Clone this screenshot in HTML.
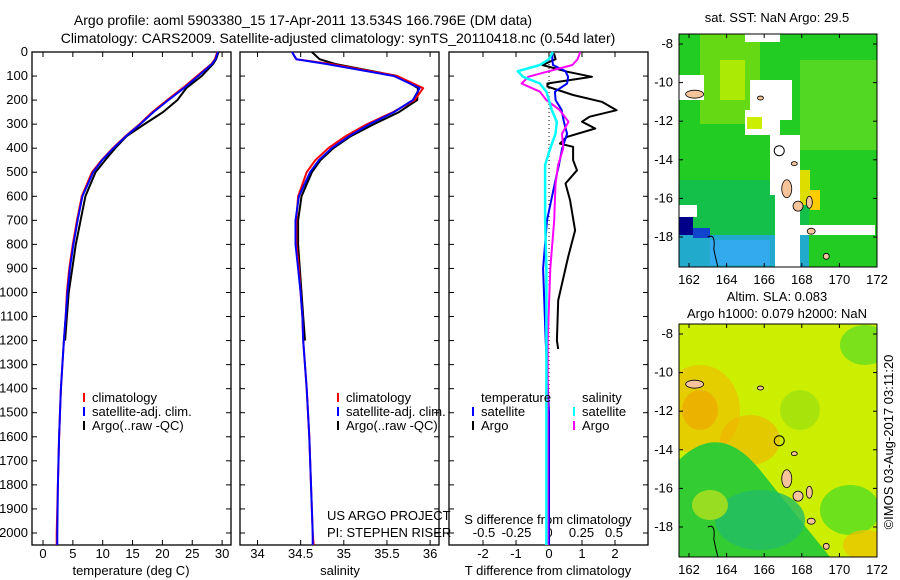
<!DOCTYPE html>
<html><head><meta charset="utf-8"><style>
body{margin:0;background:#fff}
svg{display:block;font-family:"Liberation Sans",sans-serif;font-size:13px}
.ttl{font-size:14px}
</style></head><body>
<svg id="fig" width="900" height="580" viewBox="0 0 900 580">
<text class="ttl" x="303" y="25" text-anchor="middle">Argo profile: aoml 5903380_15 17-Apr-2011 13.534S 166.796E (DM data)</text>
<text class="ttl" x="338" y="43" text-anchor="middle">Climatology: CARS2009. Satellite-adjusted climatology: synTS_20110418.nc (0.54d later)</text>
<g id="maps"></g>
<g id="plots"></g>
</svg>
<script>
// ---- data ----
const depths = [0,30,50,100,150,200,250,300,350,400,450,500,600,700,800,900,1000,1100,1200,1400,1600,1800,2000,2050];
const tempClim = [29.2,28.8,28.2,25.8,23.4,20.8,18.3,16.2,13.8,11.7,9.8,8.2,6.5,5.7,5.0,4.4,4.0,3.8,3.5,3.0,2.7,2.5,2.3,2.3];
const tempSat  = [29.3,28.9,28.3,26.0,23.6,21.0,18.5,16.3,13.9,11.8,9.9,8.4,6.6,5.8,5.1,4.5,4.1,3.8,3.5,3.0,2.7,2.5,2.4,2.4];
const tempArgo = [29.4,29.0,28.5,26.6,24.0,22.5,20.1,17.0,14.0,12.1,10.4,8.8,7.1,6.3,5.5,4.9,4.3,4.0,3.7];
const salClim = [34.40,34.45,34.85,35.62,35.92,35.82,35.57,35.27,35.02,34.82,34.67,34.57,34.47,34.45,34.45,34.48,34.50,34.52,34.53,34.57,34.60,34.62,34.64,34.65];
const salSat  = [34.40,34.45,34.80,35.58,35.88,35.80,35.58,35.30,35.06,34.86,34.71,34.61,34.48,34.44,34.44,34.47,34.50,34.52,34.53,34.57,34.60,34.62,34.64,34.64];
const salArgo = [34.63,34.72,34.90,35.62,35.86,35.85,35.64,35.35,35.08,34.88,34.73,34.63,34.51,34.47,34.47,34.49,34.51,34.53,34.55];
const dDepths = [5,30,54,82,103,131,144,179,207,242,269,290,318,353,381,394,450,492,547,617,742,853,1033,1200,1235];
const tDiffArgo = [0.15,0.2,-0.2,0.55,1.3,-0.05,-0.05,0.73,1.6,2.05,1.23,1.0,1.4,0.54,0.33,0.73,0.73,0.85,0.5,0.64,0.79,0.58,0.28,0.24,0.28];
const sdDepths = [0,30,54,80,103,131,165,200,240,290,340,400,470,550,700,900,1200,1500,2050];
const tDiffSat = [0.1,0.1,0.12,0.5,0.58,0.55,0.18,0.2,0.38,0.45,0.55,0.4,0.3,0.17,-0.06,-0.18,-0.1,0,0];
const sDiffArgo = [0.24,0.22,0.18,0.0,-0.16,-0.21,-0.07,-0.02,0.08,0.15,0.1,0.11,0.07,0.05,0.04,0.01,-0.01,-0.01,-0.01];
const sDiffSat = [0.03,0.0,-0.07,-0.24,-0.2,-0.07,-0.02,0.0,0.02,0.06,0.05,0.01,-0.03,-0.03,-0.03,-0.02,-0.02,-0.02,-0.02];
const depthTicks = [0,100,200,300,400,500,600,700,800,900,1000,1100,1200,1300,1400,1500,1600,1700,1800,1900,2000];
const tempTicks = [0,5,10,15,20,25,30];
const salTicks = [34,34.5,35,35.5,36];
const tdTicks = [-2,-1,0,1,2];
const sdTicks = [-0.5,-0.25,0,0.25,0.5];
const lonTicks = [162,164,166,168,170,172];
const latTicks = [-8,-10,-12,-14,-16,-18];

const NS='http://www.w3.org/2000/svg';
function mk(parent,tag,attrs,text){const e=document.createElementNS(NS,tag);for(const k in attrs)e.setAttribute(k,attrs[k]);if(text!==undefined)e.textContent=text;parent.appendChild(e);return e;}
const plots=document.getElementById('plots');
const TOP=52,BOT=545;
const yD=d=>TOP+(d/2050)*(BOT-TOP);
const xT=t=>43+t*5.97;
const xS=s=>257.5+(s-34)*86.3;
const xTD=t=>549+t*33;
const xSD=s=>549+s*130;

function panel(name,x0,x1,leftLabels){
  const g=mk(plots,'g',{});
  
  
  const r=mk(g,'rect',{x:x0,y:TOP,width:x1-x0,height:BOT-TOP,fill:'none',stroke:'#000','stroke-width':1.3});
  
  
  depthTicks.forEach(d=>{
    const y=yD(d);
    mk(g,'line',{x1:x0,x2:x0+5,y1:y,y2:y,stroke:'#000'});
    mk(g,'line',{x1:x1-5,x2:x1,y1:y,y2:y,stroke:'#000'});
    if(leftLabels){const t=mk(g,'text',{x:x0-4,y:y+4,'text-anchor':'end'},String(d));
      
      }
  });
  return g;
}
function xticks(g,ticks,fx,ylab,top,bottom,fmt){
  ticks.forEach(v=>{const x=fx(v);
    if(top)mk(g,'line',{x1:x,x2:x,y1:TOP,y2:TOP+5,stroke:'#000'});
    if(bottom)mk(g,'line',{x1:x,x2:x,y1:BOT-5,y2:BOT,stroke:'#000'});
    if(ylab){const t=mk(g,'text',{x:x,y:ylab,'text-anchor':'middle'},fmt?fmt(v):String(v));
      
      }
  });
}
function line(g,name,xs,ds,fx,col,w,dash){
  const pts=xs.map((v,i)=>fx(v).toFixed(1)+','+yD(ds[i]).toFixed(1)).join(' ');
  const p=mk(g,'polyline',{points:pts,fill:'none',stroke:col,'stroke-width':w||2,'stroke-linejoin':'round'});
  if(dash)p.setAttribute('stroke-dasharray',dash);
  
  
}
function legend(g,x,y,col,label){
  mk(g,'line',{x1:x,x2:x,y1:y-9,y2:y,stroke:col,'stroke-width':2});
  const t=mk(g,'text',{x:x+8,y:y},label);
  
  
}
// Panel 1
const g1=panel('temperature-panel',32,231,true);
xticks(g1,tempTicks,xT,558,true,true);
const xl1=mk(g1,'text',{x:131,y:575,'text-anchor':'middle'},'temperature (deg C)');


line(g1,'temp-argo',tempArgo,depths.slice(0,tempArgo.length),xT,'#000',2);
line(g1,'temp-clim',tempClim,depths,xT,'#f00',2);
line(g1,'temp-sat',tempSat,depths,xT,'#00f',2);
legend(g1,84,402,'#f00','climatology');
legend(g1,84,416,'#00f','satellite-adj. clim.');
legend(g1,84,430,'#000','Argo(..raw -QC)');
// Panel 2
const g2=panel('salinity-panel',240,439,false);
xticks(g2,salTicks,xS,558,true,true);
const xl2=mk(g2,'text',{x:340,y:575,'text-anchor':'middle'},'salinity');


line(g2,'sal-argo',salArgo,depths.slice(0,salArgo.length),xS,'#000',2);
line(g2,'sal-clim',salClim,depths,xS,'#f00',2);
line(g2,'sal-sat',salSat,depths,xS,'#00f',2);
legend(g2,338,402,'#f00','climatology');
legend(g2,338,416,'#00f','satellite-adj. clim.');
legend(g2,338,430,'#000','Argo(..raw -QC)');
mk(g2,'text',{x:327,y:520},'US ARGO PROJECT');
mk(g2,'text',{x:327,y:537},'PI: STEPHEN RISER');
// Panel 3
const g3=panel('difference-panel',449,648,false);
xticks(g3,tdTicks,xTD,558,true,true);
sdTicks.forEach(v=>{const t=mk(g3,'text',{x:xSD(v),y:537,'text-anchor':'middle'},String(v));
  
  });
mk(g3,'text',{x:548,y:524,'text-anchor':'middle'},'S difference from climatology');
const xl3=mk(g3,'text',{x:548,y:575,'text-anchor':'middle'},'T difference from climatology');


mk(g3,'line',{x1:549,x2:549,y1:TOP,y2:BOT,stroke:'#000','stroke-dasharray':'1,3'});
line(g3,'tdiff-argo',tDiffArgo,dDepths,xTD,'#000',2);
line(g3,'tdiff-sat',tDiffSat,sdDepths,xTD,'#00f',2);
line(g3,'sdiff-argo',sDiffArgo,sdDepths,xSD,'#f0f',2);
line(g3,'sdiff-sat',sDiffSat,sdDepths,xSD,'#0ff',2.5);
mk(g3,'text',{x:481,y:402},'temperature');
mk(g3,'text',{x:582,y:402},'salinity');
legend(g3,473,416,'#00f','satellite');
legend(g3,473,430,'#000','Argo');
legend(g3,574,416,'#0ff','satellite');
legend(g3,574,430,'#f0f','Argo');

// ---- maps ----
const maps=document.getElementById('maps');
const lonX=l=>689+(l-162)*18.8;
function map(name,y0,patches){
  const g=mk(maps,'g',{});
  
  
  const latY=l=>y0+10+(-8-l)*19.3;
  const cid='clip'+y0;
  const cp=mk(g,'clipPath',{id:cid});mk(cp,'rect',{x:679,y:y0,width:198,height:233});
  const inner=mk(g,'g',{'clip-path':'url(#'+cid+')'});
  patches(inner);
  const isl=[[167.2,-15.5,5,9],[167.8,-16.4,5,5],[168.4,-16.2,3,6],[168.5,-17.7,4,3],[169.3,-19,3,3],[162.3,-10.6,9,4],[165.8,-10.8,3,2],[167.6,-14.2,3,2]];
  isl.forEach(a=>{const e=mk(inner,'ellipse',{cx:lonX(a[0]),cy:latY(a[1]),rx:a[2],ry:a[3],fill:'#f5c49b',stroke:'#000','stroke-width':0.8});
    
    });
  mk(inner,'path',{d:`M${lonX(163)} ${latY(-18)} q8 -4 6 12 q4 20 8 30`,fill:'none',stroke:'#000','stroke-width':1});
  const c=mk(inner,'circle',{cx:lonX(166.8),cy:latY(-13.53),r:5,fill:'none',stroke:'#000'});
  
  
  mk(g,'rect',{x:679,y:y0,width:198,height:233,fill:'none',stroke:'#000'});
  lonTicks.forEach(l=>{const x=lonX(l);mk(g,'line',{x1:x,x2:x,y1:y0,y2:y0+4,stroke:'#000'});mk(g,'line',{x1:x,x2:x,y1:y0+229,y2:y0+233,stroke:'#000'});
    mk(g,'text',{x:x,y:y0+250,'text-anchor':'middle'},String(l));});
  latTicks.forEach(l=>{const y=latY(l);mk(g,'line',{x1:679,x2:683,y1:y,y2:y,stroke:'#000'});mk(g,'line',{x1:873,x2:877,y1:y,y2:y,stroke:'#000'});
    mk(g,'text',{x:673,y:y+4,'text-anchor':'end'},String(l));});
  return g;
}
map('sst-map',34,(g)=>{
  mk(g,'rect',{x:679,y:34,width:198,height:233,fill:'#22cc22'});
  mk(g,'rect',{x:700,y:34,width:60,height:90,fill:'#77dd11',opacity:0.8});
  mk(g,'rect',{x:720,y:60,width:25,height:40,fill:'#bbee00',opacity:0.8});
  mk(g,'rect',{x:800,y:60,width:77,height:90,fill:'#66dd22',opacity:0.7});
  mk(g,'rect',{x:679,y:180,width:130,height:87,fill:'#11bb55',opacity:0.8});
  mk(g,'rect',{x:679,y:235,width:130,height:32,fill:'#22aacc'});
  mk(g,'rect',{x:710,y:240,width:60,height:25,fill:'#33aaee'});
  mk(g,'rect',{x:679,y:215,width:14,height:20,fill:'#000088'});
  mk(g,'rect',{x:679,y:205,width:18,height:12,fill:'#fff'});
  mk(g,'rect',{x:693,y:228,width:17,height:10,fill:'#1144cc'});
  mk(g,'rect',{x:790,y:170,width:20,height:35,fill:'#dddd00'});
  mk(g,'rect',{x:810,y:190,width:10,height:20,fill:'#ffcc00'});
  mk(g,'rect',{x:750,y:80,width:42,height:40,fill:'#fff'});
  mk(g,'rect',{x:745,y:110,width:35,height:25,fill:'#fff'});
  mk(g,'rect',{x:770,y:135,width:30,height:60,fill:'#fff'});
  mk(g,'rect',{x:775,y:190,width:25,height:77,fill:'#fff'});
  mk(g,'rect',{x:800,y:225,width:75,height:10,fill:'#fff'});
  mk(g,'rect',{x:679,y:75,width:25,height:25,fill:'#fff'});
  mk(g,'rect',{x:747,y:117,width:15,height:12,fill:'#ccee00'});
  mk(g,'rect',{x:745,y:34,width:35,height:8,fill:'#fff'});
});
map('sla-map',324,(g)=>{
  mk(g,'rect',{x:679,y:324,width:198,height:233,fill:'#ccee00'});
  mk(g,'ellipse',{cx:700,cy:410,rx:40,ry:45,fill:'#f0c000',opacity:0.7});
  mk(g,'ellipse',{cx:700,cy:410,rx:18,ry:20,fill:'#f0a000',opacity:0.6});
  mk(g,'ellipse',{cx:750,cy:440,rx:30,ry:25,fill:'#f0b000',opacity:0.6});
  mk(g,'path',{d:'M679 460 Q720 420 760 470 Q800 520 830 557 L679 557 Z',fill:'#33cc33'});
  mk(g,'ellipse',{cx:760,cy:520,rx:45,ry:30,fill:'#22bb66',opacity:0.8});
  mk(g,'ellipse',{cx:710,cy:505,rx:18,ry:15,fill:'#99dd22'});
  mk(g,'ellipse',{cx:850,cy:510,rx:30,ry:25,fill:'#55dd22',opacity:0.8});
  mk(g,'ellipse',{cx:800,cy:410,rx:20,ry:20,fill:'#99e011',opacity:0.7});
  mk(g,'ellipse',{cx:865,cy:345,rx:25,ry:20,fill:'#66dd22',opacity:0.8});
  mk(g,'ellipse',{cx:865,cy:545,rx:22,ry:15,fill:'#f0c000',opacity:0.7});
});
mk(maps,'text',{x:777,y:22,'text-anchor':'middle'},'sat. SST: NaN Argo: 29.5');
mk(maps,'text',{x:777,y:301,'text-anchor':'middle'},'Altim. SLA: 0.083');
mk(maps,'text',{x:777,y:318,'text-anchor':'middle'},'Argo h1000: 0.079 h2000: NaN');
const cr=mk(maps,'text',{x:893,y:442,'text-anchor':'middle',transform:'rotate(-90 893 442)'},'©IMOS 03-Aug-2017 03:11:20');


</script>
</body></html>
